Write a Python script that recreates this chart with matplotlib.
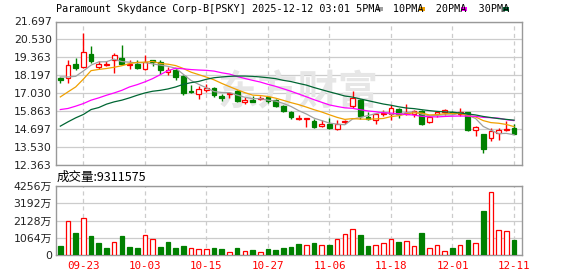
import matplotlib
matplotlib.use("Agg")
import matplotlib.pyplot as plt
from matplotlib.patches import Rectangle
import numpy as np

# ---- data (60 trading days, 2025-09-18 .. 2025-12-11) ----
opens = [18.00, 18.05, 18.91, 18.74, 19.60, 18.74, 18.89, 19.21, 19.30, 18.89,
         18.95, 18.61, 19.17, 19.08, 18.43, 18.52, 18.13, 17.16, 17.01, 17.22,
         17.36, 16.84, 16.97, 17.16, 16.47, 16.62, 16.66, 16.81, 16.58, 16.19,
         15.80, 15.35, 15.37, 15.22, 14.87, 15.04, 14.68, 15.15, 16.23, 16.58,
         15.50, 15.32, 15.67, 15.67, 15.99, 15.67, 15.65, 15.89, 15.17, 15.67,
         15.80, 15.84, 15.69, 15.80, 14.65, 14.37, 14.09, 14.42, 14.63, 14.80]
highs = [18.11, 19.21, 19.30, 20.94, 20.08, 19.15, 19.13, 19.67, 20.14, 19.17,
         19.17, 19.49, 19.21, 19.21, 18.74, 18.67, 18.20, 17.57, 17.51, 17.66,
         17.44, 16.97, 17.10, 17.27, 16.77, 16.88, 16.84, 16.88, 16.64, 16.25,
         15.89, 15.60, 15.45, 15.37, 15.28, 15.41, 15.28, 15.30, 17.16, 16.64,
         15.80, 15.71, 15.93, 16.25, 16.10, 16.30, 15.93, 15.97, 15.60, 15.80,
         16.01, 15.89, 16.08, 15.80, 14.87, 14.37, 14.74, 14.74, 15.22, 15.02]
lows = [17.70, 17.70, 18.56, 18.69, 19.02, 18.59, 18.78, 18.35, 18.89, 18.61,
        18.63, 18.56, 18.78, 18.31, 18.22, 17.92, 16.92, 17.05, 16.66, 17.12,
        16.79, 16.53, 16.71, 16.45, 16.30, 16.49, 16.58, 16.40, 16.14, 15.82,
        15.37, 15.28, 14.85, 14.80, 14.85, 14.70, 14.63, 15.06, 16.10, 15.37,
        15.32, 15.04, 15.56, 15.28, 15.45, 15.60, 15.50, 14.96, 15.11, 15.50,
        15.60, 15.67, 15.54, 14.59, 14.26, 13.16, 13.92, 13.96, 14.57, 14.35]
closes = [17.87, 18.89, 18.67, 19.73, 19.13, 18.95, 18.93, 19.49, 18.93, 18.95,
          18.67, 19.08, 19.08, 18.52, 18.54, 18.09, 17.05, 17.10, 17.29, 17.36,
          16.92, 16.75, 17.03, 16.51, 16.62, 16.49, 16.75, 16.51, 16.21, 15.89,
          15.50, 15.41, 15.41, 14.85, 15.06, 14.74, 15.02, 15.24, 16.71, 15.56,
          15.37, 15.65, 15.76, 16.04, 15.67, 15.76, 15.86, 15.02, 15.50, 15.80,
          15.97, 15.76, 15.78, 14.63, 14.83, 13.38, 14.55, 14.63, 14.70, 14.39]

ma5 = [18.09, 18.09, 18.13, 18.48, 18.86, 19.07, 19.08, 19.25, 19.09, 19.05,
       19.00, 19.03, 18.94, 18.86, 18.78, 18.66, 18.26, 17.86, 17.61, 17.38,
       17.14, 17.08, 17.07, 16.91, 16.77, 16.68, 16.68, 16.58, 16.52, 16.37,
       16.17, 15.90, 15.68, 15.41, 15.25, 15.09, 15.02, 14.98, 15.35, 15.45,
       15.58, 15.70, 15.81, 15.67, 15.69, 15.77, 15.82, 15.67, 15.56, 15.59,
       15.63, 15.61, 15.76, 15.59, 15.39, 14.87, 14.63, 14.40, 14.42, 14.33]
ma10 = [16.79, 17.12, 17.44, 17.95, 18.50, 18.58, 18.64, 18.72, 18.82, 18.96,
        19.04, 19.05, 19.10, 18.97, 18.92, 18.83, 18.64, 18.40, 18.24, 18.08,
        17.90, 17.67, 17.46, 17.26, 17.07, 16.91, 16.88, 16.82, 16.71, 16.57,
        16.42, 16.29, 16.13, 15.96, 15.81, 15.63, 15.46, 15.33, 15.38, 15.35,
        15.34, 15.36, 15.39, 15.51, 15.57, 15.68, 15.76, 15.74, 15.62, 15.64,
        15.70, 15.71, 15.71, 15.57, 15.49, 15.25, 15.12, 15.08, 15.00, 14.86]
ma20 = [15.97, 16.04, 16.19, 16.36, 16.58, 16.73, 16.90, 17.05, 17.22, 17.44,
        17.59, 17.77, 17.98, 18.24, 18.50, 18.66, 18.62, 18.57, 18.54, 18.52,
        18.47, 18.36, 18.28, 18.12, 17.99, 17.87, 17.76, 17.61, 17.48, 17.32,
        17.16, 16.98, 16.80, 16.61, 16.44, 16.27, 16.17, 16.08, 16.05, 15.96,
        15.88, 15.83, 15.76, 15.74, 15.69, 15.65, 15.61, 15.53, 15.50, 15.49,
        15.52, 15.54, 15.55, 15.54, 15.53, 15.46, 15.44, 15.41, 15.31, 15.25]
ma30 = [14.89, 15.17, 15.43, 15.65, 15.97, 16.10, 16.32, 16.47, 16.58, 16.73,
        16.90, 17.05, 17.16, 17.22, 17.31, 17.44, 17.61, 17.72, 17.80, 17.94,
        18.04, 18.09, 18.13, 18.15, 18.15, 18.13, 18.09, 18.04, 17.98, 17.87,
        17.79, 17.67, 17.56, 17.40, 17.26, 17.12, 16.99, 16.85, 16.78, 16.66,
        16.55, 16.44, 16.33, 16.25, 16.15, 16.07, 16.03, 15.96, 15.90, 15.85,
        15.82, 15.79, 15.75, 15.68, 15.62, 15.52, 15.45, 15.38, 15.33, 15.28]

# volume in 万 shares, and whether the bar is drawn as an "up" (red) bar
volume = [552, 2128, 1350, 2312, 1166, 737, 430, 778, 1166, 491,
          430, 1207, 962, 491, 798, 430, 552, 409, 348, 348,
          430, 368, 164, 430, 225, 307, 164, 368, 307, 430,
          491, 675, 614, 737, 614, 614, 962, 1289, 1575, 1228,
          552, 614, 737, 962, 798, 839, 532, 1350, 409, 614,
          225, 430, 614, 921, 737, 2701, 3908, 1535, 1473, 931]
vol_up = [0, 1, 0, 1, 0, 0, 0, 1, 0, 0,
          0, 1, 1, 0, 0, 0, 0, 1, 1, 1,
          0, 0, 1, 0, 1, 0, 1, 0, 0, 0,
          0, 0, 1, 0, 1, 0, 1, 1, 1, 0,
          0, 1, 1, 1, 0, 1, 1, 0, 1, 1,
          1, 0, 1, 0, 1, 0, 1, 1, 1, 0]

date_pos = [3, 11, 19, 27, 35, 43, 51, 59]
date_labels = ["09-23", "10-03", "10-15", "10-27", "11-06", "11-18", "12-01", "12-11"]
price_ticks = [12.363, 13.530, 14.697, 15.863, 17.030, 18.197, 19.363, 20.530, 21.697]
vol_ticks = [0, 1064, 2128, 3192, 4256]
vol_tick_labels = ["0", "1064万", "2128万", "3192万", "4256万"]
last_volume = "9311575"

RED = "#ff0000"
GREEN = "#008000"
MA_COLORS = ["#a0a0a0", "#f0a000", "#ff00ff", "#006633"]
GRID = "#cccccc"
SPINE = "#999999"

W, H = 578, 276
fig = plt.figure(figsize=(W / 100, H / 100), dpi=100)
L, R = 56, 522
ax = fig.add_axes([L / W, 1 - 165 / H, (R - L) / W, (165 - 21.5) / H])
axv = fig.add_axes([L / W, 1 - 255 / H, (R - L) / W, (255 - 186) / H])

x = np.arange(len(closes))
o = np.array(opens)
c = np.array(closes)
up = c >= o
cols = np.where(up, RED, GREEN)

# candles
ax.vlines(x, lows, highs, colors=cols, linewidth=1.0, zorder=3)
body_lo = np.minimum(o, c)
body_h = np.maximum(np.abs(c - o), 0.015)
ax.bar(x, body_h, bottom=body_lo, width=0.62,
       facecolor=np.where(up, "white", GREEN), edgecolor=cols,
       linewidth=0.9, zorder=4)

for ma, col in zip([ma5, ma10, ma20, ma30], MA_COLORS):
    ax.plot(x, ma, color=col, linewidth=0.9, zorder=5)

ax.set_xlim(-0.56, 60.04)
ax.set_ylim(price_ticks[0], price_ticks[-1])
ax.set_yticks(price_ticks)
ax.set_yticklabels(["%.3f" % v for v in price_ticks])
ax.set_xticks(date_pos)
ax.set_xticklabels([])

# volume
vup = np.array(vol_up, dtype=bool)
vcols = np.where(vup, RED, GREEN)
axv.bar(x, volume, width=0.6, facecolor=np.where(vup, "white", GREEN),
        edgecolor=vcols, linewidth=0.9, zorder=3)
axv.set_xlim(-0.56, 60.04)
axv.set_ylim(0, vol_ticks[-1])
axv.set_yticks(vol_ticks)
axv.set_yticklabels(vol_tick_labels, family=["DejaVu Sans", "Noto Sans CJK SC"])
axv.set_xticks(date_pos)
axv.set_xticklabels(date_labels, color=RED, family="DejaVu Sans Mono", fontsize=7.6)

for a in (ax, axv):
    a.set_axisbelow(True)
    a.grid(axis="y", color=GRID, linewidth=0.9, linestyle="-")
    a.grid(axis="x", color=GRID, linewidth=0.9, linestyle=(0, (3.3, 2.7)))
    a.tick_params(length=0, labelsize=7.8, colors="#222222", pad=3)
    for s in a.spines.values():
        s.set_color(SPINE)
        s.set_linewidth(1.0)
axv.tick_params(axis="x", colors=RED, pad=4)

# watermark
ax.text(0.52, 0.50, "东方财富", transform=ax.transAxes, ha="center", va="center",
        family="Noto Sans CJK SC", fontsize=29, fontweight="bold",
        color="#e6e6e6", zorder=0.6)

# title with legend swatches
title = "Paramount Skydance Corp-B[PSKY] 2025-12-12 03:01 5PMA  10PMA  20PMA  30PMA"
cw = 6.02
fig.text(L / W, 1 - 9.5 / H, title, family="DejaVu Sans Mono", fontsize=7.25,
         va="center", ha="left", color="black")
for name, col in zip(["5PMA", "10PMA", "20PMA", "30PMA"], MA_COLORS):
    i = title.index(name + " ") if name != "30PMA" else title.index(name)
    xs = L + (i + len(name)) * cw + 1.5
    fig.patches.append(Rectangle((xs / W, 1 - 11.0 / H), 6 / W, 4 / H,
                                 transform=fig.transFigure, facecolor=col,
                                 edgecolor="none"))

fig.text(57 / W, 1 - 177.5 / H, "成交量:" + last_volume,
         family=["Noto Sans CJK SC", "DejaVu Sans"], fontsize=9, va="center",
         color="black")

fig.savefig("out.png", dpi=100)
